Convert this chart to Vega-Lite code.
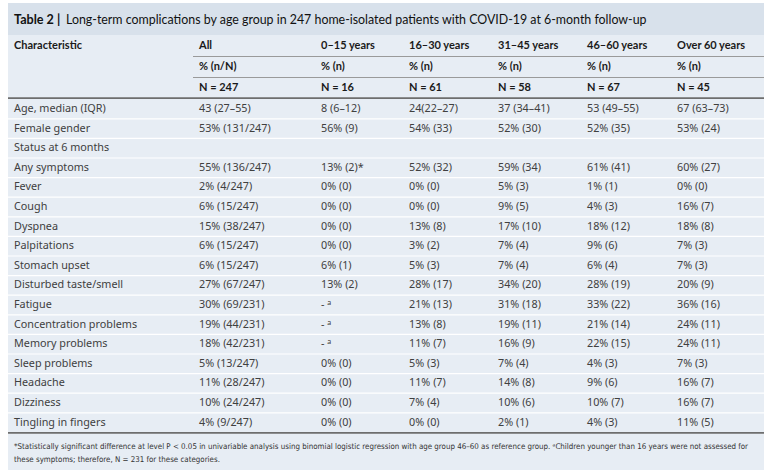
{
  "$schema": "https://vega.github.io/schema/vega-lite/v6.json",
  "width": 756,
  "height": 467,
  "autosize": {"type": "none"},
  "padding": {"left": 8, "top": 3, "right": 9, "bottom": 4},
  "background": "#ffffff",
  "config": {"view": {"fill": "#e7edf4", "stroke": null}},
  "datasets": {
    "columns": [
      {"col": "Characteristic", "idx": 0},
      {"col": "All", "idx": 1},
      {"col": "0–15 years", "idx": 2},
      {"col": "16–30 years", "idx": 3},
      {"col": "31–45 years", "idx": 4},
      {"col": "46–60 years", "idx": 5},
      {"col": "Over 60 years", "idx": 6}
    ],
    "table": [
      {"r": 0, "Characteristic": "Characteristic", "All": "All", "0–15 years": "0–15 years", "16–30 years": "16–30 years", "31–45 years": "31–45 years", "46–60 years": "46–60 years", "Over 60 years": "Over 60 years"},
      {"r": 1, "All": "% (n/N)", "0–15 years": "% (n)", "16–30 years": "% (n)", "31–45 years": "% (n)", "46–60 years": "% (n)", "Over 60 years": "% (n)"},
      {"r": 2, "All": "N = 247", "0–15 years": "N = 16", "16–30 years": "N = 61", "31–45 years": "N = 58", "46–60 years": "N = 67", "Over 60 years": "N = 45"},
      {"r": 3, "Characteristic": "Age, median (IQR)", "All": "43 (27–55)", "0–15 years": "8 (6–12)", "16–30 years": "24(22–27)", "31–45 years": "37 (34–41)", "46–60 years": "53 (49–55)", "Over 60 years": "67 (63–73)"},
      {"r": 4, "Characteristic": "Female gender", "All": "53% (131/247)", "0–15 years": "56% (9)", "16–30 years": "54% (33)", "31–45 years": "52% (30)", "46–60 years": "52% (35)", "Over 60 years": "53% (24)"},
      {"r": 5, "Characteristic": "Status at 6 months"},
      {"r": 6, "Characteristic": "Any symptoms", "All": "55% (136/247)", "0–15 years": "13% (2)*", "16–30 years": "52% (32)", "31–45 years": "59% (34)", "46–60 years": "61% (41)", "Over 60 years": "60% (27)"},
      {"r": 7, "Characteristic": "Fever", "All": "2% (4/247)", "0–15 years": "0% (0)", "16–30 years": "0% (0)", "31–45 years": "5% (3)", "46–60 years": "1% (1)", "Over 60 years": "0% (0)"},
      {"r": 8, "Characteristic": "Cough", "All": "6% (15/247)", "0–15 years": "0% (0)", "16–30 years": "0% (0)", "31–45 years": "9% (5)", "46–60 years": "4% (3)", "Over 60 years": "16% (7)"},
      {"r": 9, "Characteristic": "Dyspnea", "All": "15% (38/247)", "0–15 years": "0% (0)", "16–30 years": "13% (8)", "31–45 years": "17% (10)", "46–60 years": "18% (12)", "Over 60 years": "18% (8)"},
      {"r": 10, "Characteristic": "Palpitations", "All": "6% (15/247)", "0–15 years": "0% (0)", "16–30 years": "3% (2)", "31–45 years": "7% (4)", "46–60 years": "9% (6)", "Over 60 years": "7% (3)"},
      {"r": 11, "Characteristic": "Stomach upset", "All": "6% (15/247)", "0–15 years": "6% (1)", "16–30 years": "5% (3)", "31–45 years": "7% (4)", "46–60 years": "6% (4)", "Over 60 years": "7% (3)"},
      {"r": 12, "Characteristic": "Disturbed taste/smell", "All": "27% (67/247)", "0–15 years": "13% (2)", "16–30 years": "28% (17)", "31–45 years": "34% (20)", "46–60 years": "28% (19)", "Over 60 years": "20% (9)"},
      {"r": 13, "Characteristic": "Fatigue", "All": "30% (69/231)", "0–15 years": "- ᵃ", "16–30 years": "21% (13)", "31–45 years": "31% (18)", "46–60 years": "33% (22)", "Over 60 years": "36% (16)"},
      {"r": 14, "Characteristic": "Concentration problems", "All": "19% (44/231)", "0–15 years": "- ᵃ", "16–30 years": "13% (8)", "31–45 years": "19% (11)", "46–60 years": "21% (14)", "Over 60 years": "24% (11)"},
      {"r": 15, "Characteristic": "Memory problems", "All": "18% (42/231)", "0–15 years": "- ᵃ", "16–30 years": "11% (7)", "31–45 years": "16% (9)", "46–60 years": "22% (15)", "Over 60 years": "24% (11)"},
      {"r": 16, "Characteristic": "Sleep problems", "All": "5% (13/247)", "0–15 years": "0% (0)", "16–30 years": "5% (3)", "31–45 years": "7% (4)", "46–60 years": "4% (3)", "Over 60 years": "7% (3)"},
      {"r": 17, "Characteristic": "Headache", "All": "11% (28/247)", "0–15 years": "0% (0)", "16–30 years": "11% (7)", "31–45 years": "14% (8)", "46–60 years": "9% (6)", "Over 60 years": "16% (7)"},
      {"r": 18, "Characteristic": "Dizziness", "All": "10% (24/247)", "0–15 years": "0% (0)", "16–30 years": "7% (4)", "31–45 years": "10% (6)", "46–60 years": "10% (7)", "Over 60 years": "16% (7)"},
      {"r": 19, "Characteristic": "Tingling in fingers", "All": "4% (9/247)", "0–15 years": "0% (0)", "16–30 years": "0% (0)", "31–45 years": "2% (1)", "46–60 years": "4% (3)", "Over 60 years": "11% (5)"}
    ]
  },
  "layer": [
    {
      "data": {"values": [{"part": "title bar"}]},
      "mark": {"type": "rect", "color": "#d8e1eb", "clip": true},
      "encoding": {
        "x": {"value": 0},
        "x2": {"value": "width"},
        "y": {"datum": -2.05, "type": "quantitative", "scale": {"domain": [0, 2, 3, 19], "range": [43, 85, 106, 419.6], "nice": false, "zero": false}, "axis": null},
        "y2": {"datum": -0.52}
      }
    },
    {
      "data": {"name": "table"},
      "transform": [{"filter": "datum.r >= 4"}],
      "mark": {"type": "rule", "color": "#ffffff", "strokeWidth": 1.2, "yOffset": -9.8},
      "encoding": {
        "y": {"field": "r", "type": "quantitative", "scale": {"domain": [0, 2, 3, 19], "range": [43, 85, 106, 419.6], "nice": false, "zero": false}, "axis": null}
      }
    },
    {
      "data": {"name": "table"},
      "transform": [{"filter": "datum.r <= 1"}],
      "mark": {"type": "rule", "color": "#9a9a9a", "strokeWidth": 1, "yOffset": 10.5, "xOffset": -6},
      "encoding": {
        "x": {"datum": 1, "type": "quantitative", "scale": {"domain": [0, 1, 2, 3, 4, 5, 6], "range": [6, 191, 313, 401, 490, 579, 669], "nice": false, "zero": false}, "axis": null},
        "x2": {"value": "width"},
        "y": {"field": "r", "type": "quantitative", "scale": {"domain": [0, 2, 3, 19], "range": [43, 85, 106, 419.6], "nice": false, "zero": false}, "axis": null}
      }
    },
    {
      "data": {"name": "table"},
      "transform": [{"filter": "datum.r == 2 || datum.r == 19"}],
      "mark": {"type": "rule", "color": "#6e6e6e", "strokeWidth": 1.8, "yOffset": 10.2},
      "encoding": {
        "y": {"field": "r", "type": "quantitative", "scale": {"domain": [0, 2, 3, 19], "range": [43, 85, 106, 419.6], "nice": false, "zero": false}, "axis": null}
      }
    },
    {
      "data": {"name": "table"},
      "transform": [
        {"filter": "datum.r <= 2"},
        {"fold": ["Characteristic", "All", "0–15 years", "16–30 years", "31–45 years", "46–60 years", "Over 60 years"], "as": ["col", "text"]},
        {"filter": "isValid(datum.text) && datum.text !== ''"},
        {"lookup": "col", "from": {"data": {"name": "columns"}, "key": "col", "fields": ["idx"]}}
      ],
      "mark": {"type": "text", "align": "left", "baseline": "middle", "font": "Lato", "fontWeight": "bold", "fontSize": 11, "color": "#1a1a1a"},
      "encoding": {
        "x": {"field": "idx", "type": "quantitative", "scale": {"domain": [0, 1, 2, 3, 4, 5, 6], "range": [6, 191, 313, 401, 490, 579, 669], "nice": false, "zero": false}, "axis": null},
        "y": {"field": "r", "type": "quantitative", "scale": {"domain": [0, 2, 3, 19], "range": [43, 85, 106, 419.6], "nice": false, "zero": false}, "axis": null},
        "text": {"field": "text"}
      }
    },
    {
      "data": {"name": "table"},
      "transform": [
        {"filter": "datum.r >= 3"},
        {"fold": ["Characteristic", "All", "0–15 years", "16–30 years", "31–45 years", "46–60 years", "Over 60 years"], "as": ["col", "text"]},
        {"filter": "isValid(datum.text) && datum.text !== ''"},
        {"lookup": "col", "from": {"data": {"name": "columns"}, "key": "col", "fields": ["idx"]}}
      ],
      "mark": {"type": "text", "align": "left", "baseline": "middle", "font": "Noto Sans", "fontSize": 10.8, "color": "#404040"},
      "encoding": {
        "x": {"field": "idx", "type": "quantitative", "scale": {"domain": [0, 1, 2, 3, 4, 5, 6], "range": [6, 191, 313, 401, 490, 579, 669], "nice": false, "zero": false}, "axis": null},
        "y": {"field": "r", "type": "quantitative", "scale": {"domain": [0, 2, 3, 19], "range": [43, 85, 106, 419.6], "nice": false, "zero": false}, "axis": null},
        "text": {"field": "text"}
      }
    },
    {
      "data": {"values": [{"t": "Table 2 |"}]},
      "mark": {"type": "text", "align": "left", "baseline": "middle", "font": "Lato", "fontWeight": "bold", "fontSize": 12.6, "color": "#111111"},
      "encoding": {
        "x": {"datum": 0, "type": "quantitative", "scale": {"domain": [0, 1, 2, 3, 4, 5, 6], "range": [6, 191, 313, 401, 490, 579, 669], "nice": false, "zero": false}, "axis": null},
        "y": {"datum": -1.24, "type": "quantitative", "scale": {"domain": [0, 2, 3, 19], "range": [43, 85, 106, 419.6], "nice": false, "zero": false}, "axis": null},
        "text": {"field": "t"}
      }
    },
    {
      "data": {"values": [{"t": "Long-term complications by age group in 247 home-isolated patients with COVID-19 at 6-month follow-up"}]},
      "mark": {"type": "text", "align": "left", "baseline": "middle", "font": "Lato", "fontSize": 12.4, "color": "#111111", "dx": 52},
      "encoding": {
        "x": {"datum": 0, "type": "quantitative", "scale": {"domain": [0, 1, 2, 3, 4, 5, 6], "range": [6, 191, 313, 401, 490, 579, 669], "nice": false, "zero": false}, "axis": null},
        "y": {"datum": -1.24, "type": "quantitative", "scale": {"domain": [0, 2, 3, 19], "range": [43, 85, 106, 419.6], "nice": false, "zero": false}, "axis": null},
        "text": {"field": "t"}
      }
    },
    {
      "data": {"values": [{"t": "*Statistically significant difference at level P < 0.05 in univariable analysis using binomial logistic regression with age group 46–60 as reference group. ᵃChildren younger than 16 years were not assessed for"}]},
      "mark": {"type": "text", "align": "left", "baseline": "middle", "font": "DejaVu Sans Condensed, Lato", "fontSize": 7.9, "color": "#333333"},
      "encoding": {
        "x": {"datum": 0, "type": "quantitative", "scale": {"domain": [0, 1, 2, 3, 4, 5, 6], "range": [6, 191, 313, 401, 490, 579, 669], "nice": false, "zero": false}, "axis": null},
        "y": {"datum": 20.24, "type": "quantitative", "scale": {"domain": [0, 2, 3, 19], "range": [43, 85, 106, 419.6], "nice": false, "zero": false}, "axis": null},
        "text": {"field": "t"}
      }
    },
    {
      "data": {"values": [{"t": "these symptoms; therefore, N = 231 for these categories."}]},
      "mark": {"type": "text", "align": "left", "baseline": "middle", "font": "DejaVu Sans Condensed, Lato", "fontSize": 7.9, "color": "#333333"},
      "encoding": {
        "x": {"datum": 0, "type": "quantitative", "scale": {"domain": [0, 1, 2, 3, 4, 5, 6], "range": [6, 191, 313, 401, 490, 579, 669], "nice": false, "zero": false}, "axis": null},
        "y": {"datum": 20.91, "type": "quantitative", "scale": {"domain": [0, 2, 3, 19], "range": [43, 85, 106, 419.6], "nice": false, "zero": false}, "axis": null},
        "text": {"field": "t"}
      }
    }
  ]
}
